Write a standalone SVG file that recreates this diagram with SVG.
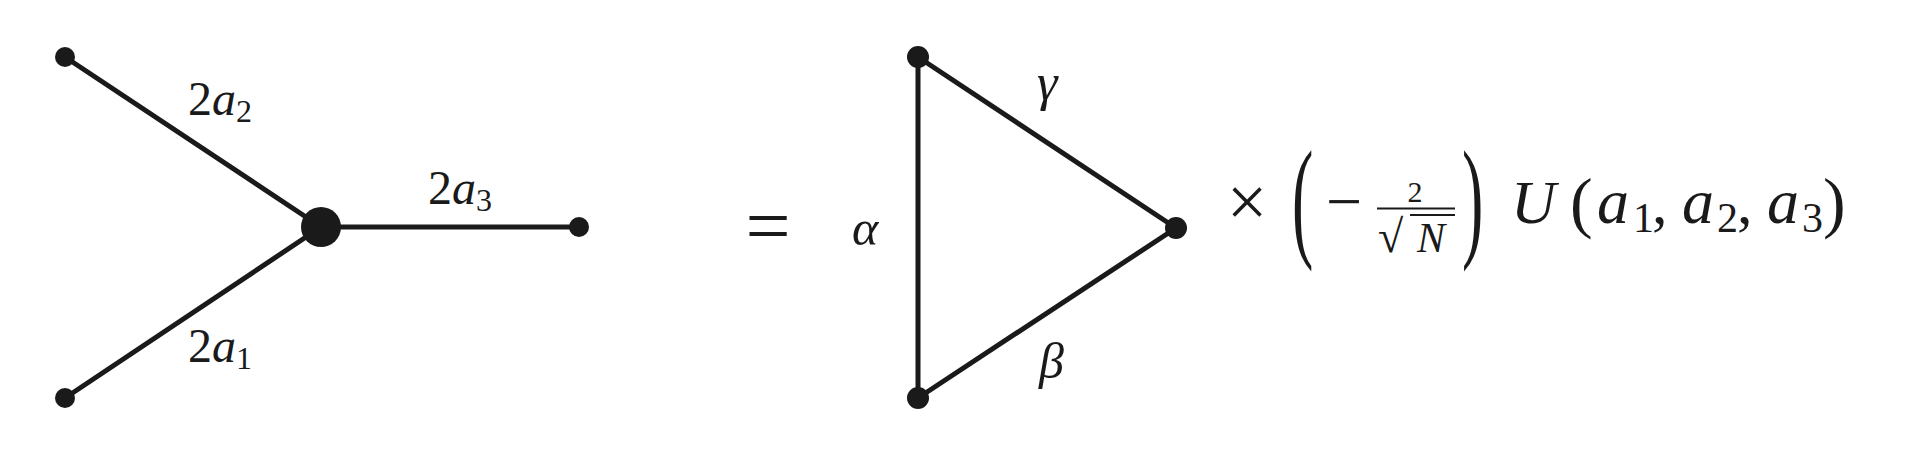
<svg xmlns="http://www.w3.org/2000/svg" width="1916" height="466" viewBox="0 0 1916 466">
<style>
.e{stroke:#1a1a1a;stroke-width:5;stroke-linecap:round;fill:none}
.d{fill:#1a1a1a}
</style>
<rect width="1916" height="466" fill="#ffffff"/>
<g id="connectors">
<line class="e" x1="65" y1="57" x2="321" y2="227"/>
<line class="e" x1="65" y1="398" x2="321" y2="227"/>
<line class="e" x1="321" y1="227" x2="579" y2="227"/>
<line class="e" x1="918" y1="57" x2="918" y2="398"/>
<line class="e" x1="918" y1="57" x2="1176" y2="228"/>
<line class="e" x1="918" y1="398" x2="1176" y2="228"/>
</g>
<g id="node-left-top"><circle class="d" cx="65" cy="57" r="10"/></g>
<g id="node-left-bottom"><circle class="d" cx="65" cy="398" r="10"/></g>
<g id="node-center"><circle class="d" cx="321" cy="227" r="20"/></g>
<g id="node-left-right"><circle class="d" cx="579" cy="227" r="10"/></g>
<g id="node-tri-top"><circle class="d" cx="918" cy="57" r="11"/></g>
<g id="node-tri-bottom"><circle class="d" cx="918" cy="398" r="11"/></g>
<g id="node-tri-right"><circle class="d" cx="1176" cy="228" r="11"/></g>
<g id="labels" fill="#1a1a1a">
<text x="188" y="115" font-size="48" font-family="Liberation Serif">2<tspan font-style="italic">a</tspan><tspan font-size="32" dy="7">2</tspan></text>
<text x="188" y="362" font-size="48" font-family="Liberation Serif">2<tspan font-style="italic">a</tspan><tspan font-size="32" dy="7">1</tspan></text>
<text x="428" y="204" font-size="48" font-family="Liberation Serif">2<tspan font-style="italic">a</tspan><tspan font-size="32" dy="7">3</tspan></text>
<text x="768" y="253" font-size="80" font-family="Liberation Serif" text-anchor="middle">=</text>
<text x="852" y="245" font-size="50" font-family="Liberation Serif" font-style="italic">α</text>
<text x="1037" y="100" font-size="52" font-family="Liberation Serif" font-style="italic">γ</text>
<text x="1039" y="378" font-size="50" font-family="Liberation Serif" font-style="italic">β</text>
</g>
<g id="formula" fill="#1a1a1a">
<text x="1247" y="226" font-size="72" font-family="Liberation Serif" text-anchor="middle">×</text>
<text x="0" y="0" font-size="64" font-family="Liberation Serif" transform="translate(1292,243) scale(1,2.1)">(</text>
<text x="1326" y="223" font-size="64" font-family="Liberation Serif">−</text>
<text x="1415" y="202" font-size="30" font-family="Liberation Serif" text-anchor="middle">2</text>
<line x1="1377" y1="208.5" x2="1455" y2="208.5" stroke="#1a1a1a" stroke-width="2.2"/>
<text x="1378" y="252" font-size="46" font-family="Liberation Serif">√</text>
<line x1="1410" y1="215" x2="1455" y2="215" stroke="#1a1a1a" stroke-width="2"/>
<text x="1417" y="252" font-size="42" font-family="Liberation Serif" font-style="italic">N</text>
<text x="0" y="0" font-size="64" font-family="Liberation Serif" transform="translate(1462,243) scale(1,2.1)">)</text>
<text x="1511" y="223" font-size="62" font-family="Liberation Serif" font-style="italic">U</text>
<text x="1570" y="225" font-size="68" font-family="Liberation Serif">(</text>
<text x="1597" y="223" font-size="64" font-family="Liberation Serif" font-style="italic">a</text>
<text x="1633" y="232" font-size="42" font-family="Liberation Serif">1</text>
<text x="1652" y="223" font-size="62" font-family="Liberation Serif">,</text>
<text x="1682" y="223" font-size="64" font-family="Liberation Serif" font-style="italic">a</text>
<text x="1717" y="232" font-size="42" font-family="Liberation Serif">2</text>
<text x="1737" y="223" font-size="62" font-family="Liberation Serif">,</text>
<text x="1767" y="223" font-size="64" font-family="Liberation Serif" font-style="italic">a</text>
<text x="1802" y="232" font-size="42" font-family="Liberation Serif">3</text>
<text x="1823" y="225" font-size="68" font-family="Liberation Serif">)</text>
</g>
</svg>
